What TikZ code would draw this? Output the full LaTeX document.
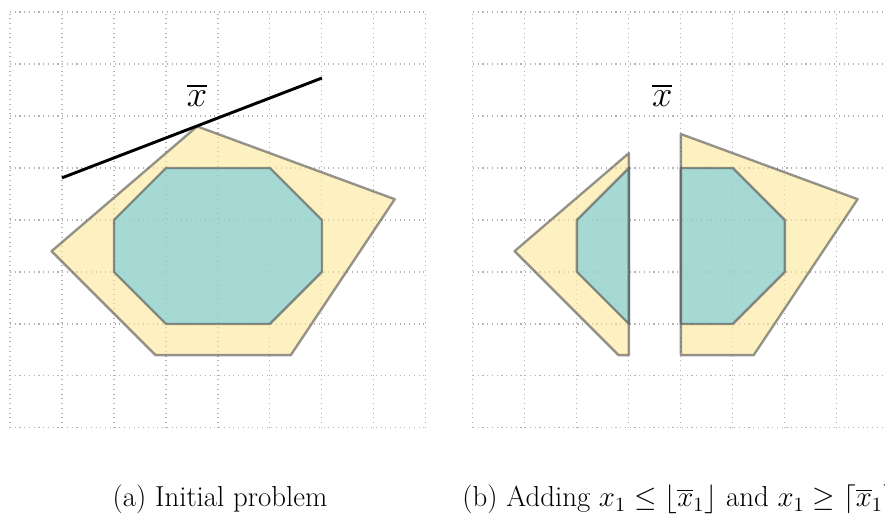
\RequirePackage{fix-cm}
\documentclass[tikz,border=0pt]{standalone}
\usepackage{amsmath}
\usetikzlibrary{positioning,calc}
\definecolor{hullyellow}{RGB}{252,230,152}
\definecolor{intteal}{RGB}{108,203,223}

\begin{document}
\begin{tikzpicture}[
  every node/.style={font=\fontsize{15.8}{19}\selectfont},
  gridl/.style={gray!60, dotted, line width=0.6pt},
  relax/.style={draw=black!69, draw opacity=0.6, line width=1.3pt, line join=round,
                fill=hullyellow, fill opacity=0.6},
  hull/.style ={draw=black!69, draw opacity=0.6, line width=1.3pt, line join=round,
                fill=intteal, fill opacity=0.6},
  cutl/.style ={line width=1.6pt, black},
  lbl/.style  ={font=\fontsize{20}{24}\selectfont}]

\clip (-0.192,-1.692) rectangle (16.83,8.231);

%% (a) initial problem
\draw[gridl] (0,0) grid (8,8);
\draw[relax] (0.8,3.4) -- (3.6,5.8) -- (7.4,4.4) -- (5.4,1.4) -- (2.8,1.4) -- cycle;
\draw[hull]  (3,5) -- (5,5) -- (6,4) -- (6,3) -- (5,2) -- (3,2) -- (2,3) -- (2,4) -- cycle;
\coordinate (cutL) at (1,4.81);
\coordinate (cutR) at (6,6.73);
\draw[cutl] (cutL) -- (cutR);
\node[lbl] (xbarA) at (3.6,6.40) {$\overline{x}$};
\node[anchor=base] (capA) at (4.04,-1.52) {(a) Initial problem};

%% (b) branching on x_1
\begin{scope}[xshift=8.904cm]
\draw[gridl] (0,0) grid (8,8);
\draw[relax] (0.8,3.4) -- (3,5.286) -- (3,1.4) -- (2.8,1.4) -- cycle;
\draw[relax] (4,5.653) -- (7.4,4.4) -- (5.4,1.4) -- (4,1.4) -- cycle;
\draw[hull]  (2,4) -- (3,5) -- (3,2) -- (2,3) -- cycle;
\draw[hull]  (4,5) -- (5,5) -- (6,4) -- (6,3) -- (5,2) -- (4,2) -- cycle;
\node[lbl] (xbarB) at (3.64,6.40) {$\overline{x}$};
\node[anchor=base west, inner sep=0pt] (capB) at (-0.21,-1.52)
  {(b) Adding $x_1 \leq \lfloor \overline{x}_1 \rfloor$ and $x_1 \geq \lceil \overline{x}_1 \rceil$};
\end{scope}
\end{tikzpicture}
\end{document}
